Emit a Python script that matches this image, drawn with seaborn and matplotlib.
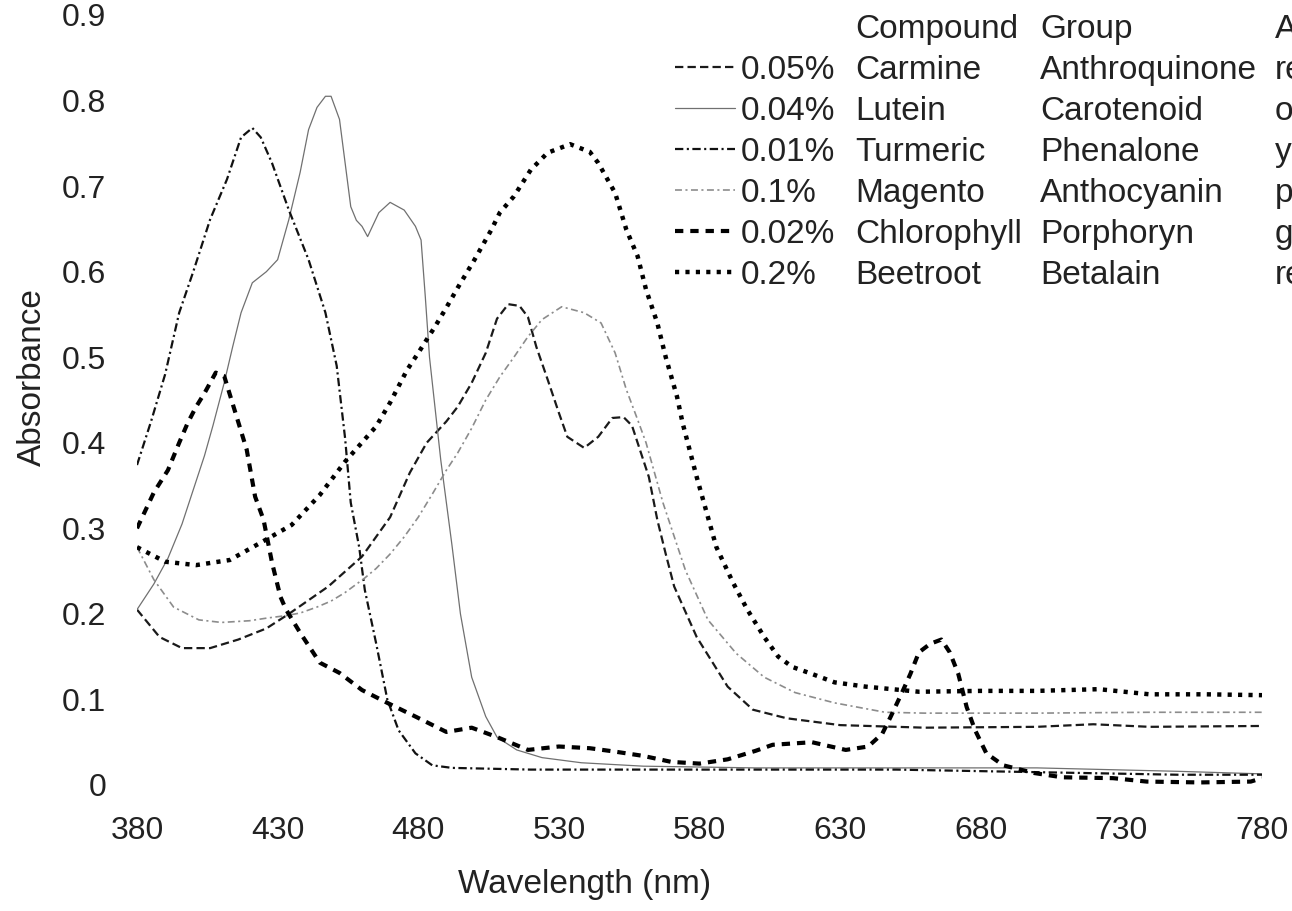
import numpy as np
import pandas as pd
import seaborn as sns
import matplotlib.pyplot as plt

# --- data ---
carmine_nm = [380, 388, 396, 406, 416, 426, 434, 448, 460, 465, 470, 477, 483, 490, 494, 499, 504, 508,
              512, 516, 519, 522, 526, 530, 533, 539, 544, 549, 553, 556, 559, 562, 565, 568, 571, 579,
              590, 599, 611, 630, 660, 700, 720, 740, 780]
carmine_abs = [0.205, 0.173, 0.16, 0.16, 0.17, 0.183, 0.2, 0.232, 0.267, 0.29, 0.313, 0.365, 0.4, 0.425,
               0.442, 0.47, 0.505, 0.545, 0.562, 0.56, 0.547, 0.512, 0.474, 0.435, 0.407, 0.394, 0.407,
               0.429, 0.43, 0.42, 0.39, 0.36, 0.31, 0.27, 0.232, 0.173, 0.115, 0.088, 0.078, 0.07, 0.067,
               0.068, 0.071, 0.068, 0.069]

lutein_nm = [380, 386, 391, 396, 400, 404, 407, 411, 414, 417, 421, 426, 430, 434, 438, 441, 444, 447,
             449, 452, 454, 456, 458, 460, 462, 464, 466, 470, 475, 479, 481, 482.5, 484, 486, 488, 490,
             492, 495, 499, 504, 508, 515, 524, 538, 560, 600, 650, 700, 750, 780]
lutein_abs = [0.205, 0.235, 0.265, 0.305, 0.345, 0.385, 0.42, 0.47, 0.512, 0.552, 0.587, 0.6, 0.614,
              0.661, 0.716, 0.766, 0.792, 0.805, 0.805, 0.778, 0.727, 0.676, 0.66, 0.653, 0.641, 0.655,
              0.669, 0.681, 0.672, 0.653, 0.637, 0.571, 0.5, 0.44, 0.38, 0.33, 0.28, 0.2, 0.126, 0.08,
              0.056, 0.041, 0.032, 0.026, 0.022, 0.02, 0.02, 0.02, 0.016, 0.013]

turmeric_nm = [380, 385, 390, 395, 400, 406, 412, 417, 421, 424, 428, 434, 441, 447, 451, 454, 456, 459,
               461, 465, 469, 473, 479, 485, 492, 520, 560, 600, 650, 700, 750, 780]
turmeric_abs = [0.374, 0.425, 0.48, 0.552, 0.6, 0.661, 0.708, 0.757, 0.768, 0.757, 0.727, 0.672, 0.614,
                0.552, 0.49, 0.405, 0.33, 0.278, 0.228, 0.166, 0.1, 0.064, 0.037, 0.023, 0.02, 0.018,
                0.018, 0.018, 0.018, 0.015, 0.012, 0.012]

magento_nm = [380, 386, 393, 402, 410, 420, 426, 433, 438, 444, 449, 454, 461, 465, 470, 475, 480, 485,
              490, 494, 499, 504, 509, 514, 519, 524, 531, 539, 545, 550, 554, 558, 561, 567, 575, 583,
              593, 603, 614, 628, 646, 660, 700, 740, 780]
magento_abs = [0.278, 0.24, 0.208, 0.193, 0.19, 0.192, 0.195, 0.198, 0.201, 0.208, 0.215, 0.225, 0.242,
               0.253, 0.27, 0.29, 0.313, 0.34, 0.368, 0.388, 0.417, 0.45, 0.477, 0.5, 0.524, 0.544, 0.559,
               0.552, 0.54, 0.505, 0.462, 0.427, 0.4, 0.33, 0.251, 0.193, 0.154, 0.126, 0.108, 0.096,
               0.085, 0.084, 0.084, 0.085, 0.085]

chloro_nm = [380, 386, 391, 395, 398, 401, 404, 408, 411, 415, 419, 422, 425, 428, 431, 433, 438, 445,
             452, 460, 469, 479, 490, 499, 508, 519, 530, 541, 550, 560, 570, 580, 590, 600, 606, 620,
             632, 640, 645, 648, 652, 655, 658, 662, 666, 669, 672, 675, 678, 682, 688, 699, 709, 727,
             739, 758, 776, 780]
chloro_abs = [0.30, 0.342, 0.368, 0.4, 0.423, 0.442, 0.458, 0.482, 0.478, 0.435, 0.392, 0.337, 0.31,
              0.26, 0.22, 0.205, 0.178, 0.143, 0.131, 0.111, 0.096, 0.08, 0.062, 0.067, 0.056, 0.041,
              0.045, 0.043, 0.039, 0.034, 0.027, 0.025, 0.03, 0.04, 0.047, 0.05, 0.041, 0.045, 0.06,
              0.08, 0.108, 0.13, 0.155, 0.165, 0.17, 0.155, 0.13, 0.091, 0.064, 0.037, 0.023, 0.014,
              0.009, 0.008, 0.004, 0.003, 0.004, 0.008]

beet_nm = [380, 390, 401, 413, 426, 435, 445, 454, 465, 470, 476, 480, 486, 490, 494, 500, 506, 509, 514,
           520, 526, 534, 541, 544, 550, 554, 558, 561, 565, 568, 572, 574, 579, 586, 592, 597, 603, 608,
           613, 619, 628, 639, 658, 680, 700, 722, 740, 760, 780]
beet_abs = [0.278, 0.261, 0.257, 0.263, 0.287, 0.304, 0.339, 0.378, 0.419, 0.447, 0.485, 0.505, 0.536,
            0.558, 0.581, 0.614, 0.649, 0.669, 0.688, 0.719, 0.739, 0.749, 0.74, 0.727, 0.692, 0.649,
            0.618, 0.579, 0.54, 0.5, 0.454, 0.423, 0.36, 0.278, 0.236, 0.205, 0.173, 0.15, 0.138, 0.131,
            0.12, 0.115, 0.109, 0.11, 0.11, 0.112, 0.106, 0.106, 0.105]

concentrations = ["0.05%", "0.04%", "0.01%", "0.1%", "0.02%", "0.2%"]
compounds = ["Carmine", "Lutein", "Turmeric", "Magento", "Chlorophyll", "Beetroot"]
groups = ["Anthroquinone", "Carotenoid", "Phenalone", "Anthocyanin", "Porphoryn", "Betalain"]
appearance = ["red", "orange", "yellow", "purple", "green", "red"]

series = [(carmine_nm, carmine_abs), (lutein_nm, lutein_abs), (turmeric_nm, turmeric_abs),
          (magento_nm, magento_abs), (chloro_nm, chloro_abs), (beet_nm, beet_abs)]

# line looks (dash lengths in points, not scaled by width)
colors = ["#1a1a1a", "#707070", "#111111", "#8c8c8c", "#000000", "#000000"]
widths = [1.6, 0.9, 1.6, 1.2, 3.0, 3.2]
styles = [(0, (6, 3)), "-", (0, (6, 2.5, 1.5, 2.5)), (0, (5, 2.5, 1.5, 2.5)),
          (0, (6, 5)), (0, (3, 4.5))]

FS = 24
TXT = "#222222"

sns.set_theme(style="white")
plt.rcParams["font.family"] = ["Liberation Sans", "DejaVu Sans"]
plt.rcParams["lines.scale_dashes"] = False

W, H = 1292, 911
fig = plt.figure(figsize=(W / 100, H / 100), dpi=100)
ax = fig.add_axes([137 / W, 1 - 785 / H, 1125 / W, 770 / H])

for (nm, ab), c, lw, ls, lab in zip(series, colors, widths, styles, concentrations):
    df = pd.DataFrame({"Wavelength": nm, "Absorbance": ab})
    sns.lineplot(data=df, x="Wavelength", y="Absorbance", ax=ax, color=c,
                 linewidth=lw, linestyle=ls, label=lab)

ax.set_xlim(380, 780)
ax.set_ylim(0, 0.9)
ax.set_xticks(np.arange(380, 781, 50))
ax.set_yticks(np.arange(0, 0.91, 0.1))
ax.set_yticklabels(["0"] + [f"{v:.1f}" for v in np.arange(0.1, 0.91, 0.1)])
ax.tick_params(axis="both", length=0, labelsize=23, labelcolor=TXT)
ax.tick_params(axis="x", pad=22)
ax.tick_params(axis="y", pad=22)
sns.despine(ax=ax, left=True, bottom=True, top=True, right=True)

ax.set_xlabel("Wavelength (nm)", fontsize=FS, color=TXT)
ax.xaxis.set_label_coords((585 - 137) / 1125, -84 / 770)
ax.set_ylabel("Absorbance", fontsize=FS, color=TXT)
ax.yaxis.set_label_coords((48 - 137) / 1125, (785 - 377) / 770)

leg = ax.legend(handles=ax.get_lines()[:6], labels=concentrations, loc="upper left",
                bbox_to_anchor=(675 / W, 1 - 50 / H), bbox_transform=fig.transFigure,
                frameon=False, fontsize=FS, handlelength=1.8, handletextpad=0.18,
                labelspacing=0.3, borderpad=0, borderaxespad=0)
for t in leg.get_texts():
    t.set_color(TXT)

# put the first legend row where the reference has it, then line the other columns up
fig.canvas.draw()
r = fig.canvas.get_renderer()
bb = leg.get_texts()[0].get_window_extent(r)
shift = (H - 70) - (bb.y0 + bb.y1) / 2
leg.set_bbox_to_anchor((675 / W, 1 - 50 / H + shift / H), transform=fig.transFigure)
fig.canvas.draw()

rows = []
for t in leg.get_texts():
    bb = t.get_window_extent(r)
    rows.append((bb.y0 + bb.y1) / 2 / H)
pitch = rows[0] - rows[1]
for y, comp, grp, app in zip(rows, compounds, groups, appearance):
    fig.text(855 / W, y, comp, fontsize=FS, va="center", color=TXT)
    fig.text(1040 / W, y, grp, fontsize=FS, va="center", color=TXT)
    fig.text(1275 / W, y, app, fontsize=FS, va="center", color=TXT)
fig.text(855 / W, rows[0] + pitch, "Compound", fontsize=FS, va="center", color=TXT)
fig.text(1040 / W, rows[0] + pitch, "Group", fontsize=FS, va="center", color=TXT)
fig.text(1275 / W, rows[0] + pitch, "Appearance", fontsize=FS, va="center", color=TXT)

fig.savefig("out.png", dpi=100)
